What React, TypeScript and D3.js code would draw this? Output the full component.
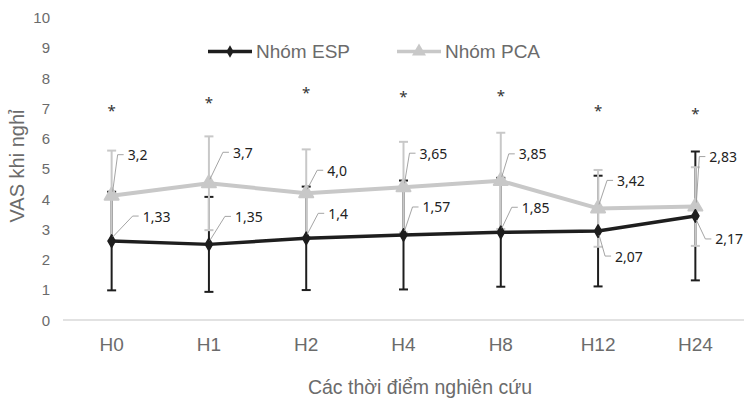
import React from "react";
import * as d3 from "d3";

const categories = ["H0", "H1", "H2", "H4", "H8", "H12", "H24"];
const espMean = [2.61, 2.5, 2.7, 2.81, 2.9, 2.94, 3.44];
const espErr = [1.63, 1.57, 1.71, 1.8, 1.8, 1.83, 2.13];
const pcaMean = [4.11, 4.52, 4.19, 4.39, 4.6, 3.69, 3.75];
const pcaErr = [1.49, 1.55, 1.45, 1.5, 1.59, 1.27, 1.3];
const espLabels = ["1,33", "1,35", "1,4", "1,57", "1,85", "2,07", "2,17"];
const pcaLabels = ["3,2", "3,7", "4,0", "3,65", "3,85", "3,42", "2,83"];
const starLevels = [6.95, 7.2, 7.55, 7.4, 7.45, 6.95, 6.85];
const yTicks = [0, 1, 2, 3, 4, 5, 6, 7, 8, 9, 10];
const seriesNames = ["Nhóm ESP", "Nhóm PCA"];
const yTitle = "VAS khi nghỉ";
const xTitle = "Các thời điểm nghiên cứu";

// layout (label placement relative to point, px)
const pcaLabelOffsets = [[16, -41], [24, -31], [21, -23], [16, -34], [18, -27], [19, -28], [14, -50]];
const espLabelOffsets = [[31, -25], [26, -28], [22, -25], [19, -28], [21, -25], [17, 25], [20, 23]];

const W = 746;
const H = 405;
const ESP_COLOR = "#1e1e1e";
const PCA_COLOR = "#c8c8c8";
const AXIS_TEXT = "#6b6b6b";

export default function App() {
  const x = d3.scaleBand<string>().domain(categories).range([63, 744]).padding(0);
  const cx = (c: string) => (x(c) as number) + x.bandwidth() / 2;
  const y = d3.scaleLinear().domain([0, 10]).range([320, 17.5]);

  const lineGen = d3
    .line<number>()
    .x((_, i) => cx(categories[i]))
    .y((d) => y(d));

  const diamond = d3.symbol().type(d3.symbolDiamond).size(45)() as string;
  const triangle = d3.symbol().type(d3.symbolTriangle).size(85)() as string;

  const errBars = (mean: number[], err: number[], color: string, key: string) =>
    mean.map((m, i) => {
      const px = cx(categories[i]);
      const y1 = y(m + err[i]);
      const y2 = y(Math.max(0, m - err[i]));
      return (
        <g key={key + i} stroke={color} strokeWidth={2}>
          <line x1={px} x2={px} y1={y1} y2={y2} />
          <line x1={px - 4.5} x2={px + 4.5} y1={y1} y2={y1} />
          <line x1={px - 4.5} x2={px + 4.5} y1={y2} y2={y2} />
        </g>
      );
    });

  const labels = (mean: number[], texts: string[], offs: number[][], key: string) =>
    mean.map((m, i) => {
      const px = cx(categories[i]);
      const py = y(m);
      const lx = px + offs[i][0];
      const ly = py + offs[i][1];
      const sign = offs[i][1] < 0 ? 1 : -1;
      const startY = py - sign * 4;
      return (
        <g key={key + i}>
          <polyline
            points={`${px + 1},${startY} ${lx - 10},${ly} ${lx - 4},${ly}`}
            fill="none"
            stroke="#9a9a9a"
            strokeWidth={0.9}
          />
          <text
            x={lx}
            y={ly}
            dominantBaseline="central"
            fontFamily="'Noto Sans', 'Open Sans', sans-serif"
            fontSize={14}
            fill="#222"
          >
            {texts[i]}
          </text>
        </g>
      );
    });

  return (
    <div style={{ position: "absolute", left: 0, top: 0 }}>
      <svg width={W} height={H} style={{ display: "block", background: "#fff" }}>
        {/* y tick labels */}
        {yTicks.map((t) => (
          <text
            key={"yt" + t}
            x={50}
            y={y(t)}
            textAnchor="end"
            dominantBaseline="central"
            fontFamily="'Liberation Sans', Arial, sans-serif"
            fontSize={15}
            fill={AXIS_TEXT}
          >
            {t}
          </text>
        ))}
        {/* baseline */}
        <line x1={63} x2={744} y1={y(0)} y2={y(0)} stroke="#d9d9d9" strokeWidth={1.5} />
        {/* x labels */}
        {categories.map((c) => (
          <text
            key={"xl" + c}
            x={cx(c)}
            y={351}
            textAnchor="middle"
            fontFamily="'Liberation Sans', Arial, sans-serif"
            fontSize={19}
            fill={AXIS_TEXT}
          >
            {c}
          </text>
        ))}
        {/* axis titles */}
        <text
          x={420}
          y={394}
          textAnchor="middle"
          fontFamily="'Liberation Sans', Arial, sans-serif"
          fontSize={19.5}
          fill={AXIS_TEXT}
        >
          {xTitle}
        </text>
        <text
          transform={`translate(24,166) rotate(-90)`}
          textAnchor="middle"
          fontFamily="'Liberation Sans', Arial, sans-serif"
          fontSize={20}
          fill={AXIS_TEXT}
        >
          {yTitle}
        </text>

        {/* error bars */}
        {errBars(espMean, espErr, ESP_COLOR, "ee")}
        {errBars(pcaMean, pcaErr, PCA_COLOR, "pe")}

        {/* lines */}
        <path d={lineGen(pcaMean) as string} fill="none" stroke={PCA_COLOR} strokeWidth={4} strokeLinejoin="round" />
        <path d={lineGen(espMean) as string} fill="none" stroke={ESP_COLOR} strokeWidth={3.5} strokeLinejoin="round" />
        {pcaMean.map((m, i) => (
          <path key={"pm" + i} d={triangle} transform={`translate(${cx(categories[i])},${y(m)})`} fill={PCA_COLOR} stroke={PCA_COLOR} strokeWidth={2} strokeLinejoin="round" />
        ))}
        {espMean.map((m, i) => (
          <path key={"em" + i} d={diamond} transform={`translate(${cx(categories[i])},${y(m)})`} fill={ESP_COLOR} stroke={ESP_COLOR} strokeWidth={1.5} strokeLinejoin="round" />
        ))}

        {/* data labels */}
        {labels(pcaMean, pcaLabels, pcaLabelOffsets, "pl")}
        {labels(espMean, espLabels, espLabelOffsets, "el")}

        {/* significance stars */}
        {starLevels.map((s, i) => (
          <text
            key={"st" + i}
            x={cx(categories[i])}
            y={y(s)}
            textAnchor="middle"
            dominantBaseline="central"
            fontFamily="'Noto Sans', sans-serif"
            fontSize={15}
            fill="#333"
          >
            *
          </text>
        ))}

        {/* legend */}
        <g>
          <line x1={208} x2={252} y1={51.5} y2={51.5} stroke={ESP_COLOR} strokeWidth={3.5} />
          <path d={diamond} transform="translate(230,51.5)" fill={ESP_COLOR} />
          <text x={256} y={51.5} dominantBaseline="central" fontFamily="'Liberation Sans', Arial, sans-serif" fontSize={19} fill={AXIS_TEXT}>
            {seriesNames[0]}
          </text>
          <line x1={397} x2={441} y1={51.5} y2={51.5} stroke={PCA_COLOR} strokeWidth={3.5} />
          <path d={triangle} transform="translate(419,51.5)" fill={PCA_COLOR} />
          <text x={445} y={51.5} dominantBaseline="central" fontFamily="'Liberation Sans', Arial, sans-serif" fontSize={19} fill={AXIS_TEXT}>
            {seriesNames[1]}
          </text>
        </g>
      </svg>
    </div>
  );
}
